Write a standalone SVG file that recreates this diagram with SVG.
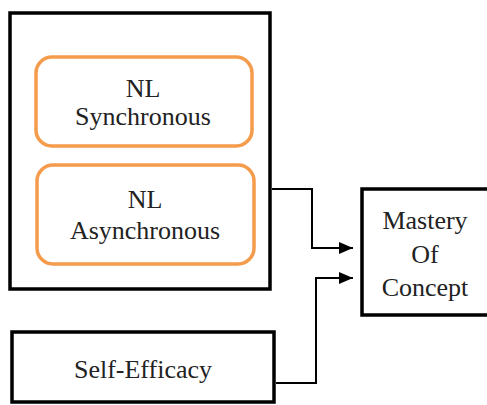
<svg xmlns="http://www.w3.org/2000/svg" width="487" height="405" viewBox="0 0 487 405">
<style>
.box{fill:#fff;stroke:#000;stroke-width:3.5}
.orange{fill:#fff;stroke:#F59B4C;stroke-width:3.5}
.t{font-family:"Liberation Serif","Times New Roman",serif;font-size:26px;fill:#222;text-anchor:middle}
.conn{fill:none;stroke:#000;stroke-width:2}
</style>
<defs>
<marker id="arrow" viewBox="0 0 14 12" refX="14" refY="6" markerWidth="14" markerHeight="12" markerUnits="userSpaceOnUse" orient="auto">
<path d="M0,0 L14,6 L0,12 Z" fill="#000"/>
</marker>
</defs>
<rect width="487" height="405" fill="#fff"/>
<g id="outer">
<rect class="box" x="10" y="13" width="260" height="276"/>
</g>
<g id="nl-sync">
<rect class="orange" x="36" y="57" width="216" height="89" rx="16"/>
<text class="t" x="143" y="97">NL</text>
<text class="t" x="143" y="125">Synchronous</text>
</g>
<g id="nl-async">
<rect class="orange" x="37" y="165" width="217" height="99" rx="16"/>
<text class="t" x="145" y="208">NL</text>
<text class="t" x="145" y="239">Asynchronous</text>
</g>
<g id="mastery">
<rect class="box" x="362" y="189" width="140" height="126"/>
<text class="t" x="425" y="229">Mastery</text>
<text class="t" x="425" y="263">Of</text>
<text class="t" x="425" y="296">Concept</text>
</g>
<g id="self-efficacy">
<rect class="box" x="12" y="332" width="262" height="70"/>
<text class="t" x="143" y="378">Self-Efficacy</text>
</g>
<g id="connectors">
<path class="conn" d="M272,189 H312 V248 H353" marker-end="url(#arrow)"/>
<path class="conn" d="M276,383 H316 V278 H353" marker-end="url(#arrow)"/>
</g>
</svg>
